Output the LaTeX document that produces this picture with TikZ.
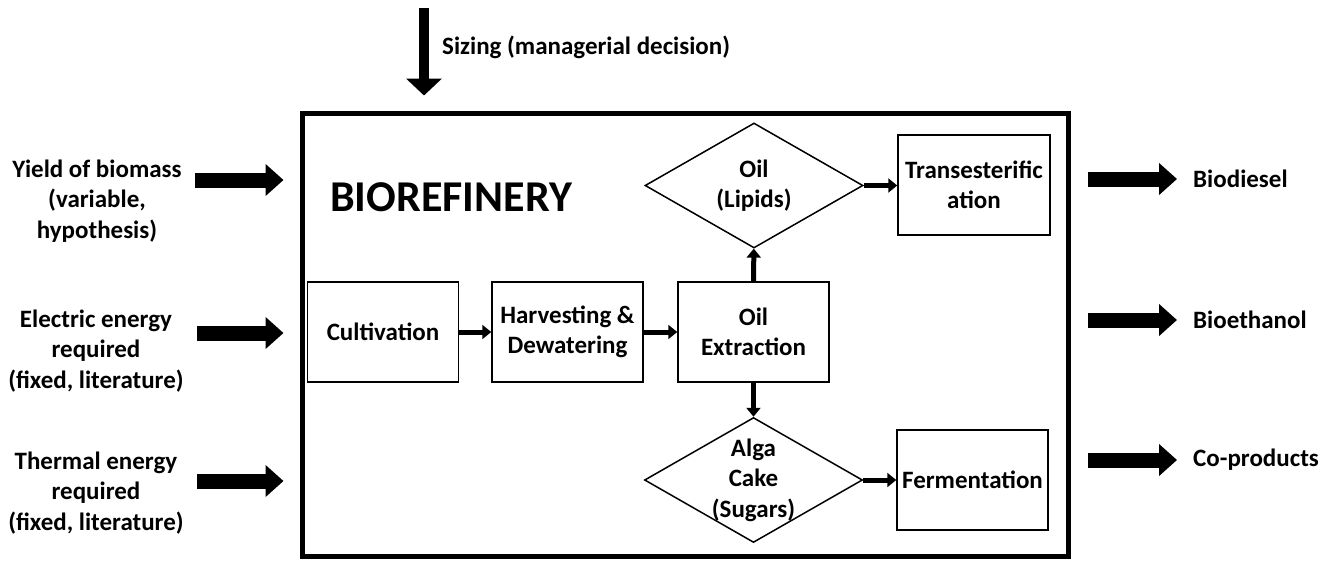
\documentclass[tikz,border=0pt]{standalone}
\usepackage{fontspec}
\setmainfont{Carlito}
\usetikzlibrary{arrows.meta,shapes.geometric}
\tikzset{
  txt/.style={inner sep=0pt, align=center, text=black, font=\bfseries\fontsize{25}{30.5}\selectfont},
  procbox/.style={draw, line width=1.5pt, minimum width=151pt, minimum height=100pt, inner sep=0pt},
  dia/.style={draw, diamond, line width=1.5pt, inner sep=0pt, minimum width=218pt, minimum height=125pt},
  flow/.style={line width=5pt, -{Triangle[width=14pt,length=9pt]}},
  bigarrow/.style={line width=15pt, -{Triangle[width=31pt,length=18pt]}},
  toparrow/.style={line width=10pt, -{Triangle[width=35pt,length=17pt]}},
}
\begin{document}
\begin{tikzpicture}[x=1pt,y=-1pt]
\useasboundingbox (0,0) rectangle (1339,560);
% main box
\node[draw, line width=5pt, minimum width=766pt, minimum height=443pt, inner sep=0pt] (main) at (685,334.5) {};
\node[txt, anchor=west, font=\bfseries\fontsize{44}{48}\selectfont] (bio) at (330,197) {BIOREFINERY};
% top input
\node[txt, anchor=west] (sizing) at (442,47) {Sizing (managerial decision)};
\coordinate (sz) at (424,8);
\draw[toparrow, shorten >=15pt] (sz) -- (sz |- main.north);
% left inputs
\node[txt] (yield) at (97,201) {Yield of biomass\\(variable,\\hypothesis)};
\node[txt] (elec) at (96,351) {Electric energy\\required\\(fixed, literature)};
\node[txt] (therm) at (96,493) {Thermal energy\\required\\(fixed, literature)};
\coordinate (yA) at (195,180);
\coordinate (eA) at (197,333);
\coordinate (tA) at (197,481);
\draw[bigarrow, shorten >=16pt] (yA) -- (yA -| main.west);
\draw[bigarrow, shorten >=16pt] (eA) -- (eA -| main.west);
\draw[bigarrow, shorten >=16pt] (tA) -- (tA -| main.west);
% right outputs
\node[txt, anchor=west] (diesel) at (1193,179) {Biodiesel};
\node[txt, anchor=west] (ethanol) at (1193,320) {Bioethanol};
\node[txt, anchor=west] (coprod) at (1193,460) {Co-products};
\draw[bigarrow, shorten <=17pt, shorten >=16pt] (main.east |- diesel.west) -- (diesel.west);
\draw[bigarrow, shorten <=17pt, shorten >=16pt] (main.east |- ethanol.west) -- (ethanol.west);
\draw[bigarrow, shorten <=17pt, shorten >=16pt] (main.east |- coprod.west) -- (coprod.west);
% process
\node[procbox] (cult) at (383,332) {};
\node[txt] at (cult) {Cultivation};
\node[procbox] (harv) at (567.5,332) {};
\node[txt] at (harv) {Harvesting \&\\Dewatering};
\node[procbox] (extr) at (753.5,332) {};
\node[txt] at (extr) {Oil\\Extraction};
\node[dia] (oil) at (754,185.5) {};
\node[txt] at (oil) {Oil\\(Lipids)};
\node[dia] (cake) at (753.5,480) {};
\node[txt] at (cake) {Alga\\Cake\\(Sugars)};
\node[procbox, minimum width=152pt] (trans) at (974,185) {};
\node[txt] at (trans) {Transesterific\\ation};
\node[procbox] (ferm) at (972.5,480) {};
\node[txt] at (ferm) {Fermentation};
\draw[flow] (cult) -- (harv);
\draw[flow] (harv) -- (extr);
\draw[flow] (extr) -- (oil);
\draw[flow] (extr) -- (cake);
\draw[flow] (oil.east) -- (oil.east -| trans.west);
\draw[flow] (cake.east) -- (cake.east -| ferm.west);
\end{tikzpicture}
\end{document}
